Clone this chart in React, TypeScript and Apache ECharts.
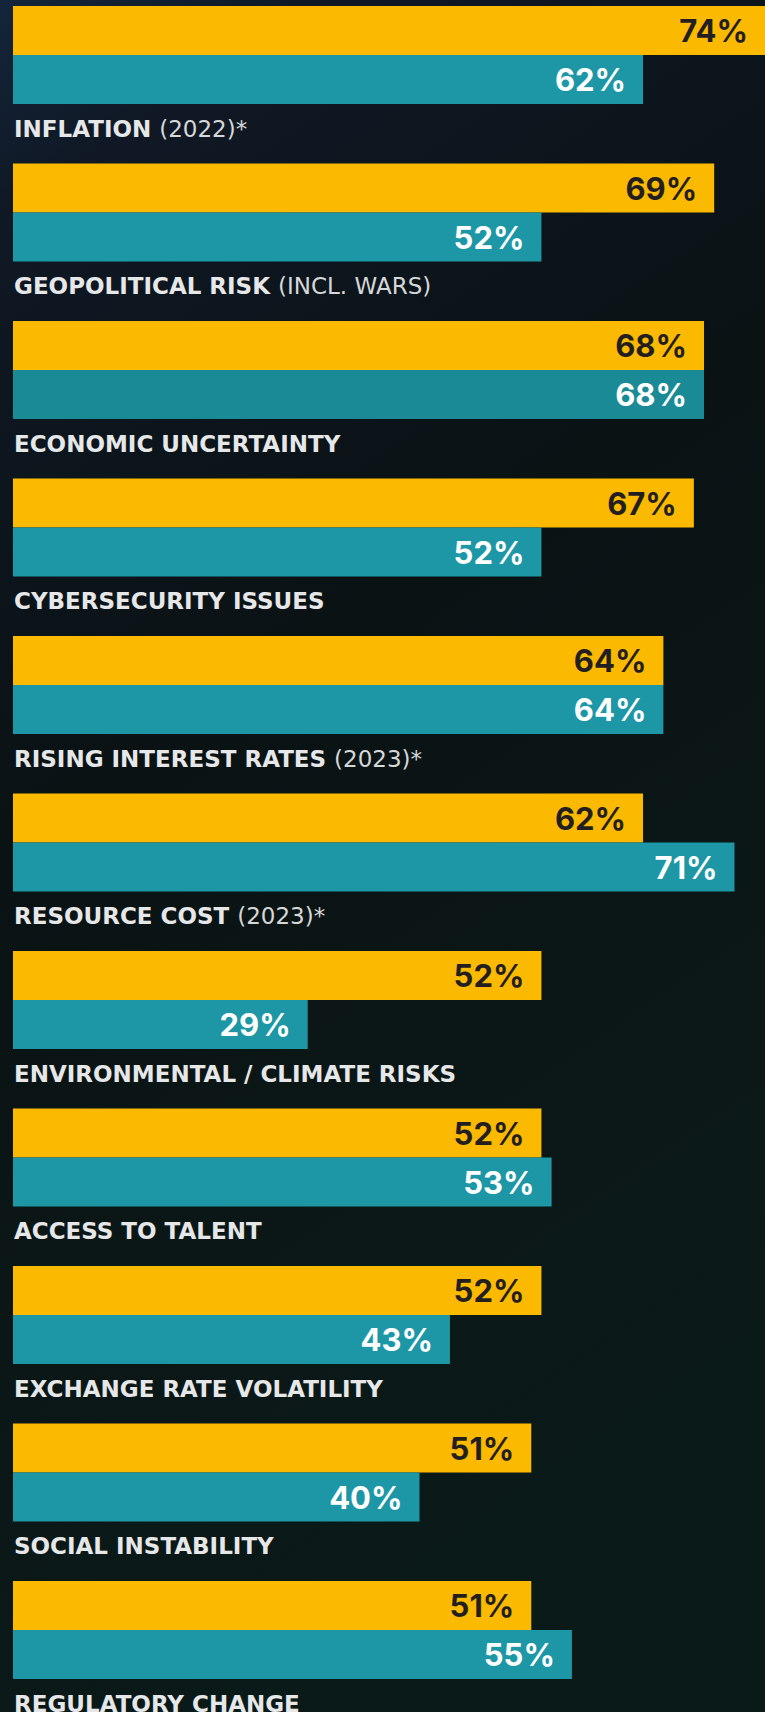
import React, { useEffect, useRef } from "react";
import * as echarts from "echarts";

const categories = [
  "INFLATION",
  "GEOPOLITICAL RISK",
  "ECONOMIC UNCERTAINTY",
  "CYBERSECURITY ISSUES",
  "RISING INTEREST RATES",
  "RESOURCE COST",
  "ENVIRONMENTAL / CLIMATE RISKS",
  "ACCESS TO TALENT",
  "EXCHANGE RATE VOLATILITY",
  "SOCIAL INSTABILITY",
  "REGULATORY CHANGE",
];
const notes = ["(2022)*", "(INCL. WARS)", "", "", "(2023)*", "(2023)*", "", "", "", "", ""];
const yellowValues = [74, 69, 68, 67, 64, 62, 52, 52, 52, 51, 51];
const tealValues = [62, 52, 68, 52, 64, 71, 29, 53, 43, 40, 55];

const YELLOW = "#FBB900";
const TEAL = "#1D97A6";
const TEAL_DARK = "#1A8A96";

export default function App() {
  const ref = useRef<HTMLDivElement>(null);
  useEffect(() => {
    if (!ref.current) return;
    const chart = echarts.init(ref.current, undefined, { renderer: "svg" });
    const barW = 49;
    const band = 157.5;
    const top = 0.75;
    const valueLabel = (color: string) => ({
      show: true,
      position: "insideRight",
      distance: 17,
      formatter: "{c}%",
      color,
      fontFamily: "Inter",
      fontWeight: 700,
      fontSize: 31,
    });
    chart.setOption({
      animation: false,
      backgroundColor: {
        type: "linear",
        x: 0,
        y: 0,
        x2: 0.3,
        y2: 1,
        colorStops: [
          { offset: 0, color: "#14253b" },
          { offset: 0.12, color: "#0f1824" },
          { offset: 0.45, color: "#0a1214" },
          { offset: 0.75, color: "#0b1716" },
          { offset: 1, color: "#0a1a19" },
        ],
      },
      grid: {
        left: 13,
        width: 752,
        top,
        height: band * categories.length,
        containLabel: false,
        outerBoundsMode: "none",
      },
      xAxis: {
        type: "value",
        min: 0,
        max: 74,
        show: false,
      },
      yAxis: {
        type: "category",
        data: categories,
        inverse: true,
        show: false,
      },
      series: [
        {
          type: "bar",
          name: "yellow",
          data: yellowValues,
          barWidth: barW,
          barGap: "0%",
          itemStyle: { color: YELLOW },
          label: valueLabel("#231F20"),
        },
        {
          type: "bar",
          name: "teal",
          data: tealValues.map((v, i) =>
            i === 2 ? { value: v, itemStyle: { color: TEAL_DARK } } : v
          ),
          barWidth: barW,
          barGap: "0%",
          itemStyle: { color: TEAL },
          label: valueLabel("#FFFFFF"),
        },
        {
          type: "bar",
          name: "labels",
          data: categories.map(() => 0),
          barWidth: barW,
          barGap: "0%",
          itemStyle: { color: "transparent" },
          silent: true,
          label: {
            show: true,
            position: "right",
            distance: 1,
            formatter: (p: any) => {
              const n = notes[p.dataIndex];
              return n
                ? `{b|${categories[p.dataIndex]} }{r|${n}}`
                : `{b|${categories[p.dataIndex]}}`;
            },
            rich: {
              b: {
                fontFamily: "DejaVu Sans",
                fontWeight: 700,
                fontSize: 23,
                color: "#E6E7E8",
              },
              r: {
                fontFamily: "DejaVu Sans",
                fontWeight: 400,
                fontSize: 23,
                color: "#D6D7D8",
              },
            },
          },
        },
      ],
    });
    return () => chart.dispose();
  }, []);
  return (
    <div
      ref={ref}
      style={{ position: "absolute", left: 0, top: 0, width: 765, height: 1712 }}
    />
  );
}
